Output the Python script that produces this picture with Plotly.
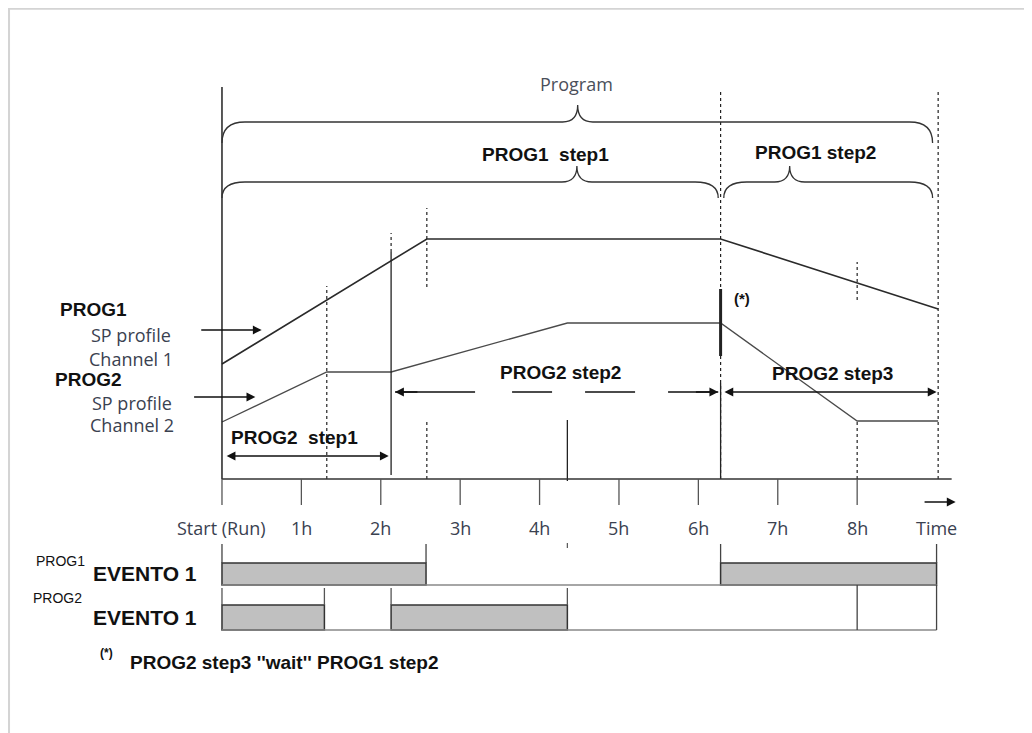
import plotly.graph_objects as go

# time axis in hours (about 79.4 px per hour in the picture)
hour_ticks = [0, 1, 2, 3, 4, 5, 6, 7, 8]
hour_labels = ["Start (Run)", "1h", "2h", "3h", "4h", "5h", "6h", "7h", "8h"]

# key instants of the two programs (h)
t_p2_ramp1 = 1.32
t_p2_step1 = 2.13
t_p1_ramp = 2.58
t_p2_ramp2 = 4.35
t_p1_step1 = 6.28
t_p2_ramp3 = 8.0
t_end = 9.02

# setpoint profiles (arbitrary units, 0 = time axis)
prog1_t = [0, t_p1_ramp, t_p1_step1, t_end]
prog1_sp = [11.5, 24.0, 24.0, 17.0]
prog2_t = [0, t_p2_ramp1, t_p2_step1, t_p2_ramp2, t_p1_step1, t_p2_ramp3, t_end]
prog2_sp = [5.7, 10.7, 10.7, 15.6, 15.6, 5.8, 5.8]

# event outputs: ON intervals (h)
prog1_event_start = [0, 6.28]
prog1_event_end = [2.57, 9.0]
prog2_event_start = [0, 2.13]
prog2_event_end = [1.29, 4.35]

BOLD = "Arial, 'Liberation Sans', sans-serif"
LIGHT = "'Open Sans', sans-serif"
TXT = "#3a4150"

fig = go.Figure()

fig.add_trace(go.Scatter(x=prog1_t, y=prog1_sp, mode="lines",
                         line={"color": "#2a2a2a", "width": 1.6}, hoverinfo="skip"))
fig.add_trace(go.Scatter(x=prog2_t, y=prog2_sp, mode="lines",
                         line={"color": "#4a4a4a", "width": 1.3}, hoverinfo="skip"))

# event bars
for starts, ends, yc, h in [(prog1_event_start, prog1_event_end, -9.5, 2.2),
                            (prog2_event_start, prog2_event_end, -13.85, 2.5)]:
    fig.add_trace(go.Bar(
        orientation="h",
        base=starts,
        x=[e - s for s, e in zip(starts, ends)],
        y=[yc] * len(starts),
        width=h,
        marker={"color": "#c0c0c0", "line": {"color": "#333333", "width": 1.5}},
        hoverinfo="skip",
    ))

shapes = []


def vline(t, y0, y1, dash="solid", width=1.3, color="#222222"):
    shapes.append({"type": "line", "xref": "x", "yref": "y", "x0": t, "x1": t,
                   "y0": y0, "y1": y1, "line": {"color": color, "width": width, "dash": dash}})


def hline(y, x0, x1, width=1.3, color="#222222"):
    shapes.append({"type": "line", "xref": "x", "yref": "y", "x0": x0, "x1": x1,
                   "y0": y, "y1": y, "line": {"color": color, "width": width}})


def brace(x0, x1, xa, yl, ye, ya, w=0.29, a=0.19):
    path = (f"M {x0},{ye} Q {x0},{yl} {x0 + w},{yl} L {xa - a},{yl} "
            f"Q {xa},{yl} {xa},{ya} Q {xa},{yl} {xa + a},{yl} "
            f"L {x1 - w},{yl} Q {x1},{yl} {x1},{ye}")
    shapes.append({"type": "path", "xref": "x", "yref": "y", "path": path,
                   "line": {"color": "#333333", "width": 1.3}})


# vertical markers
vline(0, 0, 39.2, width=1.5)
vline(t_p2_ramp1, 0, 19.3, dash="dot", width=1.2)
vline(t_p2_step1, 22.7, 24.6, dash="dot", width=1.2)
vline(t_p2_step1, 0.4, 22.7, width=1.3)
vline(t_p1_ramp, 19.2, 27.1, dash="dot", width=1.2)
vline(t_p1_ramp, 0, 5.8, dash="dot", width=1.2)
vline(t_p2_ramp2, -0.2, 5.9, width=1.3)
vline(t_p1_step1, 0, 38.7, dash="dot", width=1.2)
vline(t_p1_step1, 0, 9.6, width=1.3)
vline(t_p1_step1, 12.3, 19.0, width=3)
vline(t_p2_ramp3, 17.9, 21.7, dash="dot", width=1.2)
vline(t_p2_ramp3, 0, 5.8, dash="dot", width=1.2)
vline(t_end, 0, 38.7, dash="dot", width=1.2)

# time axis
hline(0, 0, 9.19, width=1.5, color="#333333")
for t in hour_ticks:
    vline(t, -2.6, 0, width=1.3, color="#555555")

# event rows: baselines and edge ticks
hline(-10.6, 0, 9.0, width=1.3, color="#888888")
hline(-15.1, 0, 9.0, width=1.3, color="#888888")
for t in [0, 2.57, 6.28, 9.0]:
    vline(t, -8.4, -6.5, width=1.3, color="#444444")
vline(t_p2_ramp2, -6.9, -6.4, width=1.2, color="#555555")
for t in [0, 1.29, 2.13, 4.35]:
    vline(t, -12.6, -10.9, width=1.3, color="#555555")
for t in [8.0, 9.0]:
    vline(t, -15.1, -10.6, width=1.3, color="#444444")

# braces
brace(0, 8.95, 4.48, 35.7, 33.6, 37.4)
brace(0, 6.25, 4.47, 29.7, 28.1, 31.3)
brace(6.32, 8.95, 7.15, 29.7, 28.1, 31.3)

# PROG2 step2 dashed span
fig.add_trace(go.Scatter(x=[2.18, 6.25], y=[8.7, 8.7], mode="lines",
                         line={"color": "#111111", "width": 1.6,
                               "dash": "80px,37px,40px,33px,50px,33px,60px,20px"},
                         hoverinfo="skip"))

# frame of the picture (page has an 8px body margin)
shapes.append({"type": "rect", "xref": "paper", "yref": "paper",
               "x0": 0.001, "x1": 1.02, "y0": -0.02, "y1": 0.999,
               "line": {"color": "#d4d4d4", "width": 2}})

annotations = []


def text(x, y, s, size=19, family=BOLD, color="#111111", xanchor="center", bold=True):
    annotations.append({"x": x, "y": y, "xref": "x", "yref": "y",
                        "text": f"<b>{s}</b>" if bold else s,
                        "showarrow": False, "xanchor": xanchor, "yanchor": "middle",
                        "font": {"size": size, "family": family, "color": color}})


def light(x, y, s, size=18, color=TXT):
    text(x, y, s, size=size, family=LIGHT, color=color, bold=False)


def arrow(x, y, ax, ay, both=False, width=1.6):
    annotations.append({"x": x, "y": y, "ax": ax, "ay": ay, "xref": "x", "yref": "y",
                        "axref": "x", "ayref": "y", "text": "", "showarrow": True,
                        "arrowhead": 2, "arrowsize": 1.1, "arrowwidth": width,
                        "arrowcolor": "#111111",
                        "arrowside": "end+start" if both else "end"})


# tick labels
for t, lab in zip(hour_ticks, hour_labels):
    light(t, -4.9, lab)
light(9.0, -4.9, "Time")
arrow(9.24, -2.3, 8.83, -2.3)

# top labels
light(4.47, 39.5, "Program", color="#4a4f5a")
text(4.08, 32.5, "PROG1  step1")
text(7.47, 32.7, "PROG1 step2")

# step spans
text(0.91, 4.2, "PROG2  step1")
arrow(2.10, 2.3, 0.04, 2.3, both=True)
text(4.26, 10.7, "PROG2 step2")
arrow(6.25, 8.7, 5.95, 8.7)
arrow(2.18, 8.7, 2.48, 8.7)
text(7.69, 10.6, "PROG2 step3")
arrow(9.0, 8.7, 6.31, 8.7, both=True)
text(6.55, 18.1, "(*)", size=15)

# profile legends on the left
text(-1.62, 17.0, "PROG1")
light(-1.15, 14.4, "SP profile")
light(-1.15, 12.0, "Channel 1")
arrow(0.50, 14.9, -0.28, 14.9)
text(-1.68, 10.0, "PROG2")
light(-1.13, 7.6, "SP profile")
light(-1.13, 5.4, "Channel 2")
arrow(0.42, 8.2, -0.37, 8.2)

# event row labels
text(-2.04, -8.2, "PROG1", size=14, bold=False)
text(-0.97, -9.4, "EVENTO 1", size=21)
text(-2.07, -11.9, "PROG2", size=14, bold=False)
text(-0.97, -13.8, "EVENTO 1", size=21)

# footnote
text(-1.45, -17.4, "(*)", size=12)
text(-1.18, -18.3, "PROG2 step3 ''wait'' PROG1 step2", size=19, xanchor="left")

fig.update_layout(
    width=1024,
    height=725,
    margin={"l": 0, "r": 0, "t": 0, "b": 0, "pad": 0},
    paper_bgcolor="white",
    plot_bgcolor="white",
    showlegend=False,
    barmode="overlay",
    xaxis={"range": [-2.695, 10.202], "visible": False, "fixedrange": True},
    yaxis={"range": [-25.4, 47.1], "visible": False, "fixedrange": True},
    shapes=shapes,
    annotations=annotations,
)

fig.write_html("out.html")
